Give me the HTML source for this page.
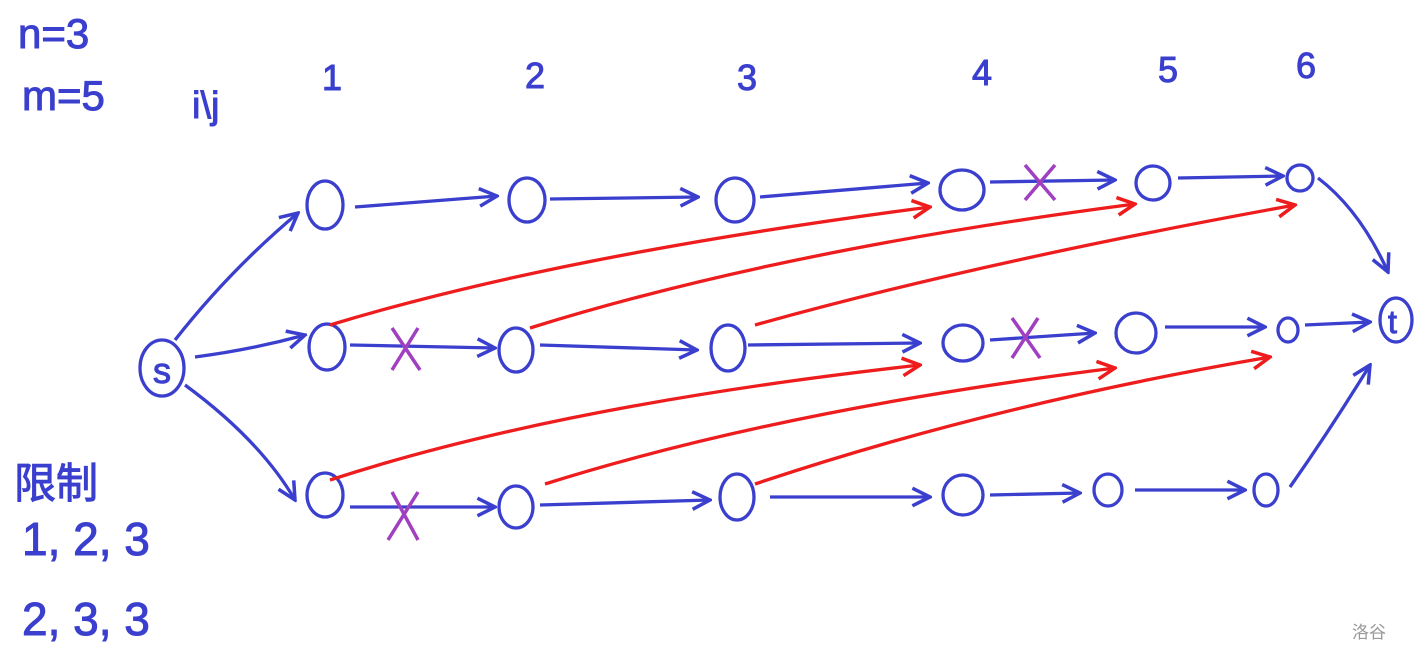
<!DOCTYPE html>
<html><head><meta charset="utf-8"><style>
html,body{margin:0;padding:0;background:#fff;}
svg{display:block}
text{font-family:"Liberation Sans","Noto Sans CJK SC",sans-serif;}
</style></head><body>
<svg width="1416" height="664" viewBox="0 0 1416 664" xmlns="http://www.w3.org/2000/svg">
<defs>
<marker id="bb" viewBox="0 0 20 20" refX="18" refY="10" markerWidth="22" markerHeight="22" orient="auto" markerUnits="userSpaceOnUse">
<path d="M2,2 L18,10 L2,18" fill="none" stroke="#3b3fce" stroke-width="3.2"/></marker>
<marker id="rr" viewBox="0 0 20 20" refX="18" refY="10" markerWidth="22" markerHeight="22" orient="auto" markerUnits="userSpaceOnUse">
<path d="M2,2 L18,10 L2,18" fill="none" stroke="#ee1c1c" stroke-width="3.2"/></marker>
</defs>
<g fill="#3b3fce" stroke="#3b3fce" stroke-width="1">
<text x="18" y="48" font-size="42">n=3</text>
<text x="22" y="110" font-size="42">m=5</text>
<text x="192" y="118" font-size="38">i\j</text>
<g font-size="36">
<text x="322" y="90">1</text><text x="525" y="88">2</text><text x="737" y="90">3</text>
<text x="972" y="85">4</text><text x="1158" y="82">5</text><text x="1296" y="78">6</text>
</g>
<text x="14" y="498" font-size="42">限制</text>
<text x="22" y="555" font-size="46">1, 2, 3</text>
<text x="22" y="635" font-size="46">2, 3, 3</text>
</g>
<text x="1352" y="638" font-size="17" fill="#999">洛谷</text>
<g fill="none" stroke="#3b3fce" stroke-width="3.3">
<ellipse cx="162" cy="368" rx="22" ry="28"/>
<ellipse cx="1396" cy="320" rx="16" ry="22"/>
<ellipse cx="325" cy="205" rx="18" ry="24"/><ellipse cx="527" cy="200" rx="18" ry="22"/><ellipse cx="735" cy="200" rx="19" ry="22"/>
<ellipse cx="962" cy="190" rx="22" ry="20"/><ellipse cx="1153" cy="183" rx="17" ry="17"/><ellipse cx="1300" cy="178" rx="13" ry="13"/>
<ellipse cx="327" cy="347" rx="18" ry="23"/><ellipse cx="516" cy="350" rx="17" ry="22"/><ellipse cx="728" cy="348" rx="17" ry="23"/>
<ellipse cx="963" cy="343" rx="20" ry="18"/><ellipse cx="1136" cy="333" rx="20" ry="20"/><ellipse cx="1288" cy="330" rx="10" ry="12"/>
<ellipse cx="325" cy="495" rx="18" ry="22"/><ellipse cx="516" cy="507" rx="17" ry="21"/><ellipse cx="737" cy="497" rx="17" ry="23"/>
<ellipse cx="963" cy="495" rx="20" ry="20"/><ellipse cx="1108" cy="490" rx="14" ry="16"/><ellipse cx="1266" cy="490" rx="12" ry="16"/>
</g>
<text x="153" y="383" font-size="36" fill="#3b3fce" stroke="#3b3fce" stroke-width="1">s</text>
<text x="1388" y="333" font-size="32" fill="#3b3fce" stroke="#3b3fce" stroke-width="1">t</text>
<g fill="none" stroke="#3b3fce" stroke-width="3.3" marker-end="url(#bb)">
<path d="M355,207 L497,196"/><path d="M550,199 L698,197"/><path d="M760,197 L928,183"/>
<path d="M990,182 L1115,180"/><path d="M1178,178 L1283,176"/><path d="M1318,178 Q1360,210 1388,272"/>
<path d="M350,345 L495,348"/><path d="M540,345 L697,350"/><path d="M748,345 L920,343"/>
<path d="M990,340 L1095,333"/><path d="M1165,327 L1265,327"/><path d="M1305,325 L1370,322"/>
<path d="M350,507 L495,507"/><path d="M540,505 L710,500"/><path d="M770,497 L930,497"/>
<path d="M990,495 L1080,493"/><path d="M1135,490 L1245,490"/><path d="M1290,487 Q1330,430 1370,365"/>
<path d="M175,340 Q230,270 298,213"/><path d="M195,357 Q250,350 305,335"/><path d="M185,385 Q260,440 295,500"/>
</g>
<g fill="none" stroke="#ee1c1c" stroke-width="3.3" marker-end="url(#rr)">
<path d="M330,325 Q560,255 930,207"/><path d="M530,328 Q780,250 1135,204"/><path d="M755,325 Q980,262 1295,205"/>
<path d="M330,480 Q560,405 920,365"/><path d="M545,484 Q780,410 1115,368"/><path d="M755,484 Q990,405 1270,357"/>
</g>
<g stroke="#a040c0" stroke-width="3.5" fill="none">
<path d="M1025,165 L1055,200 M1055,165 L1025,200"/>
<path d="M392,328 L420,370 M418,328 L392,370"/>
<path d="M1012,318 L1040,358 M1038,318 L1012,358"/>
<path d="M392,492 L418,540 M418,492 L388,540"/>
</g>
</svg>
</body></html>
